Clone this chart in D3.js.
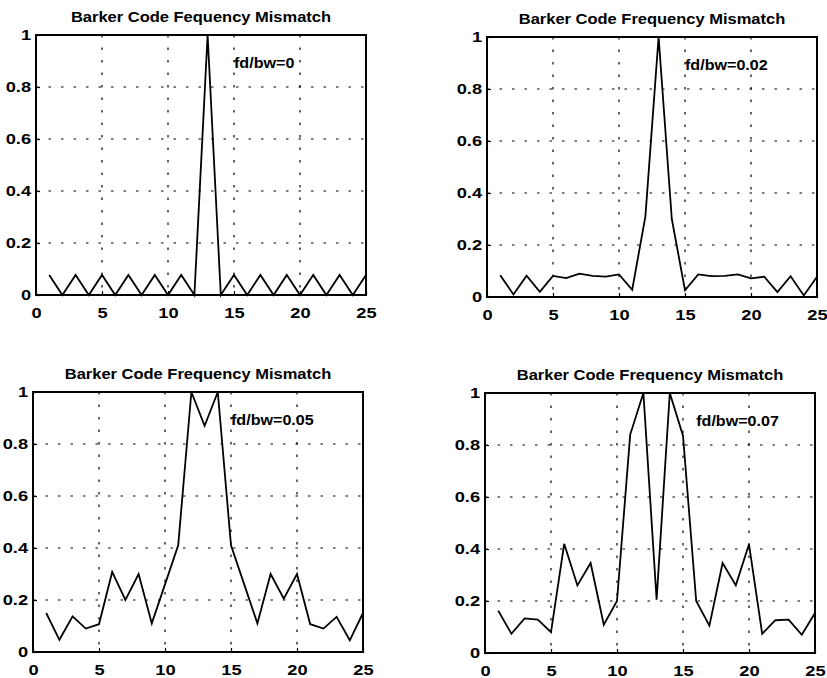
<!DOCTYPE html>
<html>
<head>
<meta charset="utf-8">
<script src="https://cdn.jsdelivr.net/npm/d3@7"></script>
<style>
body { margin: 0; background: #fff; }
text { font-family: "Liberation Sans", Arial, Helvetica, sans-serif; fill: #000; }
</style>
</head>
<body>
<div id="chart"></div>
<script>
// lag index (x) and the four normalised correlation outputs
var lags = [1, 2, 3, 4, 5, 6, 7, 8, 9, 10, 11, 12, 13, 14, 15, 16, 17, 18, 19, 20, 21, 22, 23, 24, 25];
var mismatch00 = [0.077, 0, 0.077, 0, 0.077, 0, 0.077, 0, 0.077, 0, 0.077, 0, 1, 0, 0.077, 0, 0.077, 0, 0.077, 0, 0.077, 0, 0.077, 0, 0.077];
var mismatch02 = [0.084, 0.01, 0.082, 0.02, 0.081, 0.073, 0.09, 0.081, 0.078, 0.087, 0.028, 0.31, 1, 0.3, 0.026, 0.087, 0.08, 0.081, 0.087, 0.072, 0.078, 0.019, 0.08, 0.006, 0.078];
var mismatch05 = [0.15, 0.047, 0.137, 0.09, 0.107, 0.308, 0.2, 0.3, 0.11, 0.26, 0.41, 1, 0.87, 1, 0.41, 0.26, 0.11, 0.3, 0.205, 0.3, 0.107, 0.09, 0.135, 0.045, 0.15];
var mismatch07 = [0.163, 0.074, 0.133, 0.128, 0.08, 0.42, 0.26, 0.346, 0.109, 0.2, 0.84, 1, 0.205, 1, 0.836, 0.2, 0.105, 0.346, 0.26, 0.418, 0.074, 0.126, 0.128, 0.07, 0.154];

var titles = ['Barker Code Fequency Mismatch', 'Barker Code Frequency Mismatch',
    'Barker Code Frequency Mismatch', 'Barker Code Frequency Mismatch'];
var notes = ['fd/bw=0', 'fd/bw=0.02', 'fd/bw=0.05', 'fd/bw=0.07'];
var xTicks = [0, 5, 10, 15, 20, 25];
var yTicks = [0, 0.2, 0.4, 0.6, 0.8, 1];

var width = 827,
    height = 678,
    pw = 330,
    ph = 260;

// panel placement on the page
var panels = [
    { left: 36, top: 35, values: mismatch00, title: titles[0], note: notes[0], noteX: 15 },
    { left: 487, top: 37, values: mismatch02, title: titles[1], note: notes[1], noteX: 15 },
    { left: 33, top: 392, values: mismatch05, title: titles[2], note: notes[2], noteX: 15 },
    { left: 485, top: 393, values: mismatch07, title: titles[3], note: notes[3], noteX: 16 }
];

var svg = d3.select('#chart')
    .append('svg')
    .attr('width', width)
    .attr('height', height);

var x = d3.scaleLinear().domain([0, 25]).range([0, pw]);
var y = d3.scaleLinear().domain([0, 1]).range([ph, 0]);

var line = d3.line()
    .x(function (d, i) { return x(lags[i]); })
    .y(function (d) { return y(d); });

panels.forEach(function (p) {
    var g = svg.append('g')
        .attr('transform', 'translate(' + p.left + ',' + p.top + ')');

    // dotted grid
    g.selectAll('.vgrid')
        .data(xTicks.slice(1, -1))
        .enter()
        .append('line')
        .attr('x1', function (d) { return x(d); })
        .attr('x2', function (d) { return x(d); })
        .attr('y1', 0)
        .attr('y2', ph)
        .attr('stroke', '#000')
        .attr('stroke-width', 1.2)
        .attr('stroke-dasharray', '2.5,10');

    g.selectAll('.hgrid')
        .data(yTicks.slice(1, -1))
        .enter()
        .append('line')
        .attr('x1', 0)
        .attr('x2', pw)
        .attr('y1', function (d) { return y(d); })
        .attr('y2', function (d) { return y(d); })
        .attr('stroke', '#000')
        .attr('stroke-width', 1.2)
        .attr('stroke-dasharray', '2.5,10');

    g.append('path')
        .datum(p.values)
        .attr('d', line)
        .attr('fill', 'none')
        .attr('stroke', '#000')
        .attr('stroke-width', 1.8)
        .attr('stroke-linejoin', 'miter');

    g.append('rect')
        .attr('width', pw)
        .attr('height', ph)
        .attr('fill', 'none')
        .attr('stroke', '#000')
        .attr('stroke-width', 2);

    var xAxis = d3.axisBottom(x)
        .tickValues(xTicks)
        .tickSizeInner(-4)
        .tickSizeOuter(0)
        .tickPadding(12)
        .tickFormat(d3.format('d'));

    var yAxis = d3.axisLeft(y)
        .tickValues(yTicks)
        .tickSizeInner(-4)
        .tickSizeOuter(0)
        .tickPadding(4)
        .tickFormat(function (d) { return d3.format('')(d); });

    var gx = g.append('g')
        .attr('transform', 'translate(0,' + ph + ')')
        .call(xAxis);
    var gy = g.append('g').call(yAxis);

    [gx, gy].forEach(function (a) {
        a.select('.domain').remove();
        a.selectAll('line').attr('stroke', '#000').attr('stroke-width', 1.2);
        a.selectAll('text')
            .attr('font-family', null)
            .style('font-size', '15px')
            .style('font-weight', 'bold')
            .attr('transform', 'scale(1.22,1)');
    });

    g.append('text')
        .attr('transform', 'translate(' + pw / 2 + ',-13) scale(1.1,1)')
        .attr('text-anchor', 'middle')
        .style('font-size', '15px')
        .style('font-weight', 'bold')
        .text(p.title);

    g.append('text')
        .attr('transform', 'translate(' + x(p.noteX) + ',' + y(0.875) + ') scale(1.15,1)')
        .style('font-size', '14px')
        .style('font-weight', 'bold')
        .text(p.note);
});
</script>
</body>
</html>
